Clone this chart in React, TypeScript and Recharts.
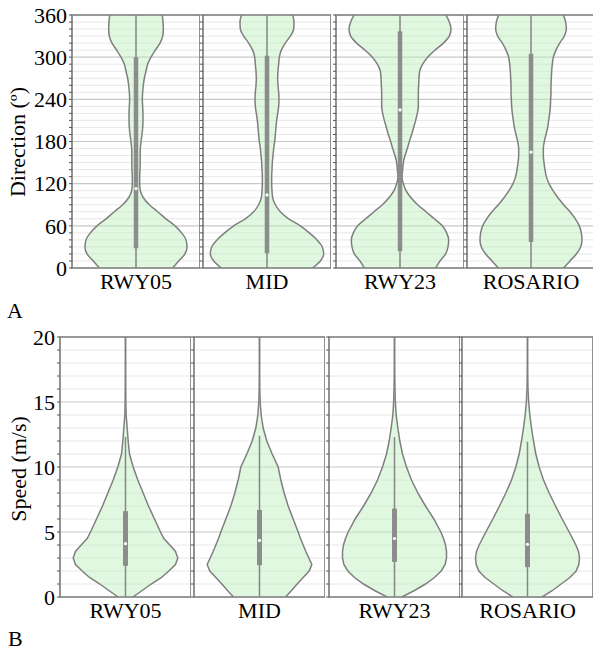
import React from "react";
import {
  ComposedChart,
  Area,
  XAxis,
  YAxis,
  CartesianGrid,
  ReferenceLine,
  ReferenceArea,
  ReferenceDot,
} from "recharts";

const CATEGORIES = ["RWY05", "MID", "RWY23", "ROSARIO"];

// Panel A: wind direction (degrees)
const DIR_LEVELS = [
  0, 10, 20, 30, 40, 50, 60, 70, 80, 90, 100, 110, 120, 130, 140, 150, 160,
  170, 180, 190, 200, 210, 220, 230, 240, 250, 260, 270, 280, 290, 300, 310,
  320, 330, 340, 350, 360,
];
const DIR_TICKS = DIR_LEVELS;
const DIR_MAJOR_TICKS = [0, 60, 120, 180, 240, 300, 360];

// violin half-widths (relative density) at each level
const DIR_RWY05 = [
  110, 128, 147, 153, 150, 137, 117, 90, 65, 40, 22, 13, 11, 11, 12, 12.5,
  12.5, 13, 15, 18, 20, 21, 21, 20, 19, 20, 22, 25, 30, 35, 45, 58, 72, 80,
  82, 81, 79,
];
const DIR_MID = [
  137, 160, 170, 166, 150, 127, 100, 65, 40, 25, 17, 15, 14, 14, 15, 16, 18,
  20, 23, 25, 27, 29, 32, 35, 36, 35, 33, 32, 33, 35, 37, 43, 55, 70, 80, 81,
  77,
];
const DIR_RWY23 = [
  107, 120, 137, 144, 146, 140, 127, 103, 78, 53, 33, 18, 10, 6, 8, 10, 15, 22,
  28, 35, 41, 47, 52, 55, 55, 55, 56, 57, 59, 68, 83, 105, 130, 148, 153, 148,
  138,
];
const DIR_ROSARIO = [
  98, 117, 136, 149, 153, 151, 145, 133, 117, 98, 81, 66, 54, 46, 42, 39, 37,
  37, 40, 45, 50, 53, 56, 58, 59, 60, 60, 61, 62, 64, 67, 75, 86, 100, 106,
  104, 97,
];
const DIR_Q1 = [28, 21, 24, 37];
const DIR_Q3 = [300, 302, 337, 305];
const DIR_MEDIAN = [113, 104, 225, 165];
const DIR_WHISKER_LOW = [0, 0, 0, 0];
const DIR_WHISKER_HIGH = [360, 360, 360, 360];

// Panel B: wind speed (m/s)
const SPD_LEVELS = [
  0, 0.5, 1, 1.5, 2, 2.5, 3, 3.5, 4, 4.5, 5, 6, 7, 8, 9, 10, 11, 12, 13, 14,
  15, 16, 17, 18, 19, 20,
];
const SPD_TICKS = [
  0, 1, 2, 3, 4, 5, 6, 7, 8, 9, 10, 11, 12, 13, 14, 15, 16, 17, 18, 19, 20,
];
const SPD_MAJOR_TICKS = [0, 5, 10, 15, 20];

const SPD_RWY05 = [
  22, 50, 77, 108, 130, 150, 157, 150, 133, 115, 105, 87, 69, 53, 37, 23, 12,
  8, 5, 2, 1, 0.8, 0.5, 0.3, 0.2, 0.1,
];
const SPD_MID = [
  78, 96, 113, 131, 149, 157, 148, 139, 131, 123, 116, 101, 86, 74, 64, 56, 38,
  22, 11, 5, 2, 1, 0.5, 0.3, 0.2, 0.1,
];
const SPD_RWY23 = [
  22, 60, 93, 120, 140, 152, 156, 156, 153, 147, 139, 118, 93, 70, 51, 36, 24,
  16, 10, 5, 2.5, 1.5, 0.8, 0.4, 0.2, 0.1,
];
const SPD_ROSARIO = [
  44, 75, 101, 127, 146, 154, 156, 153, 145, 135, 125, 104, 84, 65, 48, 35, 25,
  18, 12, 7, 3.5, 1.5, 0.8, 0.4, 0.2, 0.1,
];
const SPD_Q1 = [2.4, 2.45, 2.7, 2.3];
const SPD_Q3 = [6.6, 6.7, 6.8, 6.4];
const SPD_MEDIAN = [4.1, 4.35, 4.5, 4.05];
const SPD_WHISKER_LOW = [0, 0, 0, 0];
const SPD_WHISKER_HIGH = [12.3, 12.4, 12.3, 11.95];

const FONT = "'Liberation Serif', 'Times New Roman', serif";
const TOP_PAD = 12; // room above the plot for the top tick label

interface ViolinPanelProps {
  left: number;
  top: number;
  plotWidth: number;
  plotHeight: number;
  axisWidth: number;
  showLabels: boolean;
  levels: number[];
  widths: number[];
  half: number;
  q1: number;
  q3: number;
  median: number;
  whiskerLow: number;
  whiskerHigh: number;
  domain: [number, number];
  ticks: number[];
  majorTicks: number[];
  label: string;
  curve: "monotone" | "linear";
  boxWidth: number;
}

const ViolinPanel: React.FC<ViolinPanelProps> = ({
  left,
  top,
  plotWidth,
  plotHeight,
  axisWidth,
  showLabels,
  levels,
  widths,
  half,
  q1,
  q3,
  median,
  whiskerLow,
  whiskerHigh,
  domain,
  ticks,
  majorTicks,
  label,
  curve,
  boxWidth,
}) => {
  const data = levels.map((y, i) => ({ y, band: [-widths[i], widths[i]] }));
  const xAxisHeight = 34;
  const minorTicks = ticks.filter((t) => !majorTicks.includes(t));

  return (
    <div
      style={{ position: "absolute", left: left - axisWidth, top: top - TOP_PAD }}
    >
      <ComposedChart
        width={axisWidth + plotWidth}
        height={plotHeight + xAxisHeight + TOP_PAD}
        data={data}
        layout="vertical"
        margin={{ top: TOP_PAD, right: 0, bottom: 0, left: 0 }}
      >
        <CartesianGrid
          vertical={false}
          horizontalValues={minorTicks}
          stroke="#e8e8e8"
          strokeWidth={1}
        />
        <CartesianGrid
          vertical={false}
          horizontalValues={majorTicks}
          stroke="#c8c8c8"
          strokeWidth={1.2}
        />
        <XAxis
          type="number"
          domain={[-half, half]}
          ticks={[0]}
          interval={0}
          tickFormatter={() => label}
          axisLine={false}
          tickLine={false}
          tickSize={4}
          tickMargin={1}
          height={xAxisHeight}
          tick={{ fill: "#000", fontSize: 22, fontFamily: FONT }}
          allowDataOverflow
        />
        <YAxis
          type="number"
          dataKey="y"
          domain={domain}
          reversed
          ticks={ticks}
          interval={0}
          width={axisWidth}
          axisLine={false}
          tickSize={3}
          tickMargin={2}
          tickLine={{ stroke: "#555555" }}
          tickFormatter={(v: number) =>
            showLabels && majorTicks.includes(v) ? String(v) : ""
          }
          tick={{ fill: "#000", fontSize: 22, fontFamily: FONT }}
          allowDataOverflow
        />
        <Area
          type={curve}
          dataKey="band"
          stroke="#7f7f7f"
          strokeWidth={1.5}
          fill="#b9f0b9"
          fillOpacity={0.45}
          dot={false}
          activeDot={false}
          isAnimationActive={false}
        />
        <ReferenceLine
          segment={[
            { x: 0, y: whiskerLow },
            { x: 0, y: whiskerHigh },
          ]}
          stroke="#858585"
          strokeWidth={1.5}
        />
        <ReferenceLine
          segment={[
            { x: 0, y: q1 },
            { x: 0, y: q3 },
          ]}
          stroke="#8c8c8c"
          strokeWidth={boxWidth}
        />
        <ReferenceDot x={0} y={median} r={1.6} fill="#ffffff" stroke="none" />
        <ReferenceArea
          x1={-half}
          x2={half}
          y1={domain[0]}
          y2={domain[1]}
          fill="none"
          stroke="#808080"
          strokeWidth={1.7}
          ifOverflow="visible"
        />
      </ComposedChart>
    </div>
  );
};

const DIR_WIDTHS = [DIR_RWY05, DIR_MID, DIR_RWY23, DIR_ROSARIO];
const SPD_WIDTHS = [SPD_RWY05, SPD_MID, SPD_RWY23, SPD_ROSARIO];

const TOP_LEFTS = [72, 203, 336, 467];
const BOTTOM_LEFTS = [60, 194, 329, 462];

const App: React.FC = () => {
  return (
    <div
      style={{
        position: "absolute",
        left: 0,
        top: 0,
        width: 593,
        height: 651,
        background: "#ffffff",
        overflow: "hidden",
        fontFamily: FONT,
      }}
    >
      {CATEGORIES.map((cat, i) => (
        <ViolinPanel
          key={"dir" + cat}
          left={TOP_LEFTS[i]}
          top={15}
          plotWidth={128}
          plotHeight={253}
          axisWidth={i === 0 ? 60 : 5}
          showLabels={i === 0}
          levels={DIR_LEVELS}
          widths={DIR_WIDTHS[i]}
          half={192}
          q1={DIR_Q1[i]}
          q3={DIR_Q3[i]}
          median={DIR_MEDIAN[i]}
          whiskerLow={DIR_WHISKER_LOW[i]}
          whiskerHigh={DIR_WHISKER_HIGH[i]}
          domain={[0, 360]}
          ticks={DIR_TICKS}
          majorTicks={DIR_MAJOR_TICKS}
          label={cat}
          curve="monotone"
          boxWidth={4.5}
        />
      ))}
      {CATEGORIES.map((cat, i) => (
        <ViolinPanel
          key={"spd" + cat}
          left={BOTTOM_LEFTS[i]}
          top={337}
          plotWidth={131}
          plotHeight={260}
          axisWidth={i === 0 ? 50 : 5}
          showLabels={i === 0}
          levels={SPD_LEVELS}
          widths={SPD_WIDTHS[i]}
          half={196.5}
          q1={SPD_Q1[i]}
          q3={SPD_Q3[i]}
          median={SPD_MEDIAN[i]}
          whiskerLow={SPD_WHISKER_LOW[i]}
          whiskerHigh={SPD_WHISKER_HIGH[i]}
          domain={[0, 20]}
          ticks={SPD_TICKS}
          majorTicks={SPD_MAJOR_TICKS}
          label={cat}
          curve="linear"
          boxWidth={5}
        />
      ))}
      <div
        style={{
          position: "absolute",
          left: 18 - 100,
          top: 141.5 - 11,
          width: 200,
          height: 22,
          lineHeight: "22px",
          fontSize: 22,
          textAlign: "center",
          transform: "rotate(-90deg)",
          whiteSpace: "nowrap",
        }}
      >
        Direction (º)
      </div>
      <div
        style={{
          position: "absolute",
          left: 19 - 100,
          top: 469 - 11,
          width: 200,
          height: 22,
          lineHeight: "22px",
          fontSize: 22,
          textAlign: "center",
          transform: "rotate(-90deg)",
          whiteSpace: "nowrap",
        }}
      >
        Speed (m/s)
      </div>
      <div
        style={{
          position: "absolute",
          left: 7,
          top: 299.6,
          fontSize: 22,
          lineHeight: "22px",
        }}
      >
        A
      </div>
      <div
        style={{
          position: "absolute",
          left: 8,
          top: 627.5,
          fontSize: 22,
          lineHeight: "22px",
        }}
      >
        B
      </div>
    </div>
  );
};

export default App;
